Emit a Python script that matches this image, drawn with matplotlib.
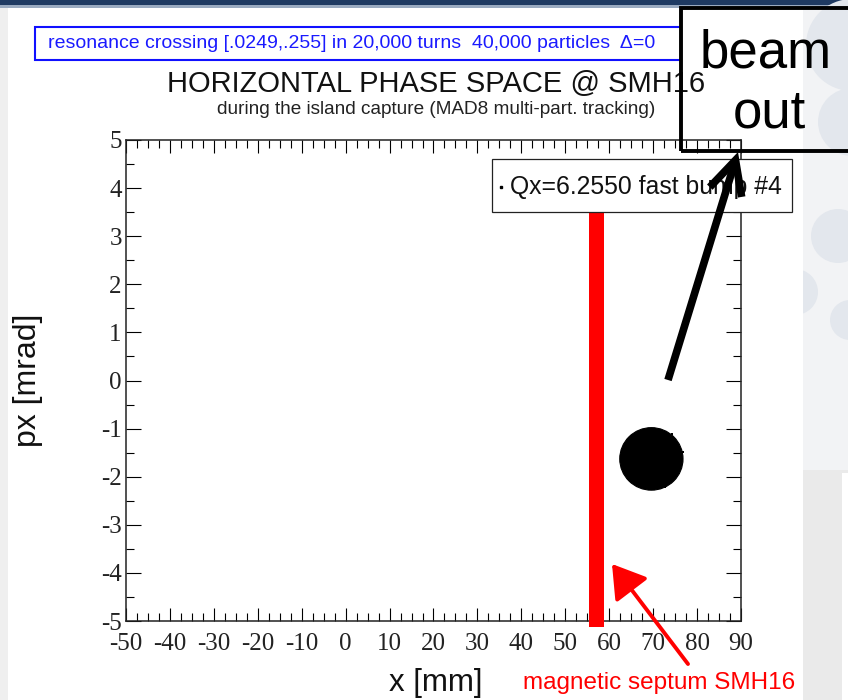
import matplotlib
matplotlib.use("Agg")
import matplotlib.pyplot as plt
from matplotlib.patches import Rectangle, Ellipse, Circle, FancyArrowPatch
from matplotlib.ticker import MultipleLocator
from matplotlib.lines import Line2D

# ---------------- data ----------------
x_limits = [-50, 90]
y_limits = [-5, 5]
x_ticks = [-50, -40, -30, -20, -10, 0, 10, 20, 30, 40, 50, 60, 70, 80, 90]
y_ticks = [-5, -4, -3, -2, -1, 0, 1, 2, 3, 4, 5]

# magnetic septum (red bar), in mm / mrad
septum_left = 55.4
septum_right = 58.7
septum_bottom = -5.12
septum_top = 3.6

# particle cloud (beam core) at Qx=6.2550
beam_center_x = 69.6
beam_center_y = -1.63
beam_half_width_x = 7.2
beam_half_width_y = 0.65
# a few stray particles
stray_x = [74.3, 76.8, 65.0, 62.6, 72.8]
stray_y = [-1.12, -1.48, -2.08, -1.55, -2.22]

banner_text = "resonance crossing [.0249,.255] in 20,000 turns  40,000 particles  Δ=0"
title_text = "HORIZONTAL PHASE SPACE @ SMH16"
subtitle_text = "during the island capture (MAD8 multi-part. tracking)"
legend_text = "Qx=6.2550 fast bump #4"

W, H = 848, 700
def fx(p):
    return p / W
def fy(p):
    return 1 - p / H

fig = plt.figure(figsize=(W / 100, H / 100), dpi=100)
fig.patch.set_facecolor("white")

SANS = ["Liberation Sans", "DejaVu Sans"]
SERIF = ["Liberation Serif", "DejaVu Serif"]

# ---------- slide background ----------
bg = []
bg.append(Rectangle((0, fy(5)), 1, 5 / H, transform=fig.transFigure, fc="#1f3a62", ec="none", zorder=-10))
bg.append(Rectangle((0, fy(8)), 1, 3 / H, transform=fig.transFigure, fc="#9aaac0", ec="none", zorder=-10))
bg.append(Rectangle((0, 0), fx(8), fy(8), transform=fig.transFigure, fc="#efefef", ec="none", zorder=-10))
bg.append(Rectangle((fx(803), 0), 1 - fx(803), fy(8), transform=fig.transFigure, fc="#f2f3f5", ec="none", zorder=-10))
bg.append(Rectangle((fx(803), 0), 1 - fx(803), fy(470), transform=fig.transFigure, fc="#eaeaea", ec="none", zorder=-9))
bg.append(Rectangle((fx(842), 0), 1 - fx(842), fy(473), transform=fig.transFigure, fc="white", ec="none", zorder=-8))
for p in bg:
    fig.add_artist(p)
# decorative circles
ax_bg = fig.add_axes([0, 0, 1, 1], zorder=-9.5)
ax_bg.set_xlim(0, W)
ax_bg.set_ylim(H, 0)
ax_bg.axis("off")
ax_bg.patch.set_alpha(0)
for (cx, cy, r) in [(852, 45, 46), (852, 122, 34), (838, 236, 27), (795, 292, 23), (850, 320, 20)]:
    ax_bg.add_patch(Circle((cx, cy), r, fc="#e3e7ed", ec="none", zorder=-9))
ax_bg.add_patch(Rectangle((8, 8), 795, 700, fc="white", ec="none", zorder=-8))

# ---------------- main axes ----------------
ax = fig.add_axes([fx(126), fy(621), (741 - 126) / W, (621 - 140) / H])
ax.set_facecolor("white")
ax.set_xlim(*x_limits)
ax.set_ylim(*y_limits)
ax.set_xticks(x_ticks)
ax.set_yticks(y_ticks)
ax.set_xticklabels([str(v) for v in x_ticks])
ax.set_yticklabels([str(v) for v in y_ticks])
ax.xaxis.set_minor_locator(MultipleLocator(2.5))
ax.yaxis.set_minor_locator(MultipleLocator(0.5))
ax.tick_params(axis="x", which="major", direction="in", length=9.4, width=0.8, top=True, bottom=True, pad=8.5)
ax.tick_params(axis="x", which="minor", direction="in", length=5.5, width=0.8, top=True, bottom=True)
ax.tick_params(axis="y", which="major", direction="in", length=10.8, width=0.8, left=True, right=True, pad=3)
ax.tick_params(axis="y", which="minor", direction="in", length=5.8, width=0.8, left=True, right=True)
for lab in ax.get_xticklabels() + ax.get_yticklabels():
    lab.set_fontfamily(SERIF)
    lab.set_fontsize(18)
    lab.set_color("#222222")
for s in ax.spines.values():
    s.set_linewidth(1.1)
    s.set_color("#222222")

# septum bar
ax.bar([septum_left], [septum_top - septum_bottom], bottom=[septum_bottom],
       width=septum_right - septum_left, align="edge", color="#ff0000",
       edgecolor="none", clip_on=False, zorder=3)

# beam cloud
ax.add_patch(Ellipse((beam_center_x, beam_center_y), 2 * beam_half_width_x, 2 * beam_half_width_y,
                     fc="black", ec="black", lw=0.8, zorder=4))
ax.scatter(stray_x, stray_y, s=3, marker="s", color="black", zorder=4, linewidths=0)

# ---------------- texts ----------------
fig.add_artist(Rectangle((fx(35), fy(60)), (681 - 35) / W, (60 - 27) / H, transform=fig.transFigure,
                         fc="white", ec="#1010ff", lw=1.5, zorder=2))
fig.text(fx(48), fy(44), banner_text, color="#1a1aff", fontsize=14, family=SANS,
         ha="left", va="center", zorder=3)
fig.text(fx(436), fy(92), title_text, fontsize=21, family=SANS, ha="center",
         va="baseline", color="#111111")
fig.text(fx(436), fy(114), subtitle_text, fontsize=13.7, family=SANS, ha="center",
         va="baseline", color="#222222")

fig.text(fx(28), fy(380), "px [mrad]", fontsize=23, family=SANS, rotation=90,
         ha="center", va="center", color="#111111")
fig.text(fx(436), fy(683), "x [mm]", fontsize=22.5, family=SANS, ha="center", va="center",
         color="#111111")
fig.text(fx(659), fy(683), "magnetic septum SMH16", fontsize=17.5, family=SANS, ha="center",
         va="center", color="#ff0000")

# legend box
fig.add_artist(Rectangle((fx(492), fy(212)), (792 - 492) / W, (212 - 159) / H,
                         transform=fig.transFigure, fc="white", ec="#222222", lw=0.9, zorder=5))
fig.add_artist(Line2D([fx(501)], [fy(187)], marker="s", markersize=1.5, color="black",
                      transform=fig.transFigure, zorder=6))
fig.text(fx(510), fy(194), legend_text, fontsize=17.8, family=SANS, ha="left", va="baseline",
         color="#111111", zorder=6)

# beam out box (outline only, as on the slide)
fig.add_artist(Rectangle((fx(681), fy(151)), (900 - 681) / W, (151 - 8) / H,
                         transform=fig.transFigure, fc="none", ec="black", lw=2.8, zorder=7,
                         clip_on=False))
fig.text(fx(766), fy(68), "beam", fontsize=38, family=SANS, ha="center", va="baseline",
         color="black", zorder=8)
fig.text(fx(769), fy(128), "out", fontsize=38, family=SANS, ha="center", va="baseline",
         color="black", zorder=8)

# arrows
fig.add_artist(FancyArrowPatch((fx(668), fy(380)), (fx(738), fy(152)), transform=fig.transFigure,
                               arrowstyle="->,head_length=1.2,head_width=0.6", mutation_scale=20,
                               lw=5.5, color="black", zorder=9, shrinkA=0, shrinkB=0,
                               capstyle="butt", joinstyle="miter"))
fig.add_artist(FancyArrowPatch((fx(688), fy(664)), (fx(612), fy(564)), transform=fig.transFigure,
                               arrowstyle="-|>,head_length=0.8,head_width=0.5", mutation_scale=25,
                               lw=2.8, color="#ff0000", zorder=9, shrinkA=0, shrinkB=0))

fig.savefig("out.png", dpi=100, facecolor=fig.get_facecolor())
